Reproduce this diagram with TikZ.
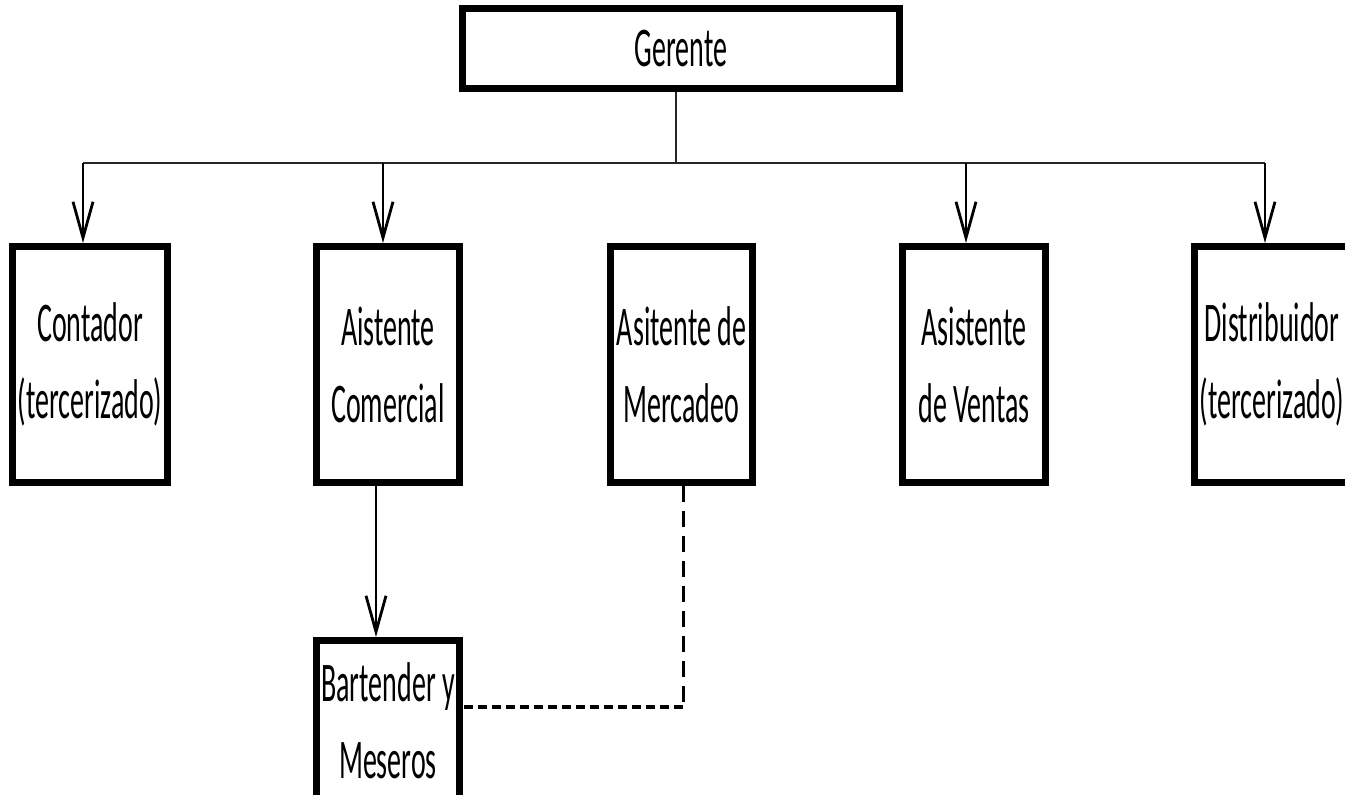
\documentclass[tikz,border=0pt]{standalone}
\usepackage{fontspec}
\setmainfont{Carlito}[FakeStretch=0.5]
\usetikzlibrary{arrows.meta}
\begin{document}
\begin{tikzpicture}[x=1pt,y=-1pt,
  box/.style={draw, line width=7pt, inner sep=0pt, align=center,
    font=\fontsize{56}{77}\selectfont},
  arr/.style={line width=2.8pt, -{Straight Barb[length=36pt,width=20pt]}},
  busline/.style={line width=1.6pt, draw=black!85},
  dashv/.style={line width=3pt, dash pattern=on 16pt off 9pt},
  dashh/.style={line width=4.5pt, dash pattern=on 9pt off 5pt}]
\clip (0,0) rectangle (1345,795);
\fill[white] (0,0) rectangle (1345,795);

\node[box, minimum width=437pt, minimum height=80pt] (ger) at (681,48.5) {Gerente};
\node[box, minimum width=155pt, minimum height=236pt] (con) at (90,364.5) {Contador\\(tercerizado)};
\node[box, minimum width=143pt, minimum height=236pt] (ai) at (388,364.5) {Aistente\\Comercial};
\node[box, minimum width=142pt, minimum height=236pt] (mer) at (681.5,364.5) {Asitente de\\Mercadeo};
\node[box, minimum width=143pt, minimum height=236pt] (ven) at (974,364.5) {Asistente\\de Ventas};
\node[box, minimum width=155pt, minimum height=236pt] (dis) at (1272,364.5) {Distribuidor\\(tercerizado)};
\node[box, minimum width=143pt, minimum height=161pt] (bar) at (388,721) {Bartender y\\Meseros};

\coordinate (bus) at (676,163);
\coordinate (a1) at (83,163);
\coordinate (a2) at (383,163);
\coordinate (a3) at (966,163);
\coordinate (a4) at (1265,163);
\coordinate (b1) at (376,0);
\coordinate (dc) at (683,707);

\draw[busline] (ger.south -| bus) -- (bus);
\draw[busline] (a1) -- (a4);
\draw[arr] (a1) -- (a1 |- con.north);
\draw[arr] (a2) -- (a2 |- ai.north);
\draw[arr] (a3) -- (a3 |- ven.north);
\draw[arr] (a4) -- (a4 |- dis.north);
\draw[arr] (ai.south -| b1) -- (bar.north -| b1);
\draw[dashv] (mer.south -| dc) -- (dc);
\draw[dashh] (dc) -- (dc -| bar.east);
\end{tikzpicture}
\end{document}
